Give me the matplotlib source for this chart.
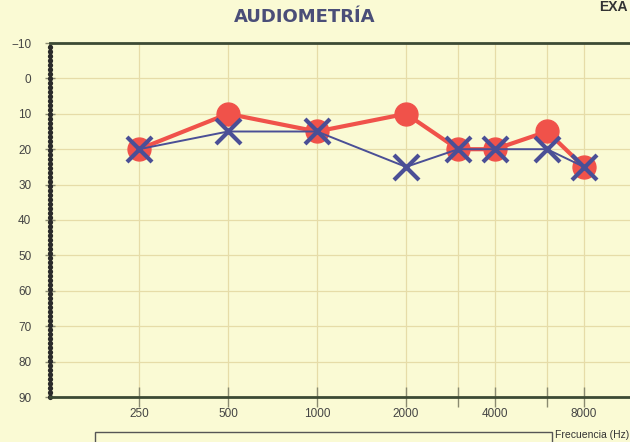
import numpy as np
import matplotlib.pyplot as plt
from matplotlib.patches import Rectangle

# audiogram values (dB HL)
freqs = [250, 500, 1000, 2000, 3000, 4000, 6000, 8000]
right_ear = [20, 10, 15, 10, 20, 20, 15, 25]   # red circles
left_ear = [20, 15, 15, 25, 20, 20, 20, 25]    # blue crosses
freq_labels = ['250', '500', '1000', '2000', '', '4000', '', '8000']
db_ticks = list(range(-10, 100, 10))

BG = '#fafad4'
GRID = '#e6dca8'
RED = '#f0524a'
BLUE = '#4a4f96'
DARK = '#3c4a34'

plt.rcParams['font.family'] = ['Liberation Sans', 'DejaVu Sans']

fig = plt.figure(figsize=(6.3, 4.42), dpi=100)
fig.patch.set_facecolor(BG)
ax = fig.add_axes([50 / 630, 1 - 397 / 442, 623 / 630, 354 / 442])
ax.set_facecolor(BG)

ax.set_xscale('log')
ax.set_xlim(125, 16000)
ax.set_ylim(90, -10)

ax.set_xticks(freqs)
ax.set_xticklabels(freq_labels)
ax.minorticks_off()
ax.set_yticks(db_ticks)
ax.grid(True, color=GRID, lw=0.9)
ax.set_axisbelow(True)

ax.plot(freqs, right_ear, color=RED, lw=3, marker='o', ms=16.5,
        mfc=RED, mec=RED, zorder=3)
ax.plot(freqs, left_ear, color=BLUE, lw=1.4, marker='x', ms=18,
        mew=3, zorder=4)

ax.spines['right'].set_visible(False)
ax.spines['top'].set_color(DARK)
ax.spines['top'].set_linewidth(2)
ax.spines['bottom'].set_color(DARK)
ax.spines['bottom'].set_linewidth(2)
# dotted left axis, like the scanned chart
ax.spines['left'].set_color('#2a2a2a')
ax.spines['left'].set_linewidth(3.8)
ax.spines['left'].set_linestyle((0, (0.05, 0.8)))
ax.spines['left'].set_capstyle('round')

ax.tick_params(axis='x', direction='inout', length=14, width=1,
               color='#8a8a70', labelsize=8.5, labelcolor='#444444', pad=1)
ax.tick_params(axis='y', direction='inout', length=7, width=1,
               color='#8a8a70', labelsize=8.5, labelcolor='#444444', pad=10)

fig.text(305 / 630, 1 - 17 / 442, 'AUDIOMETRÍA', ha='center', va='center',
         fontsize=13, fontweight='bold', color='#4a4e78',
         family='DejaVu Sans')
fig.text(628 / 630, 1 - 7 / 442, 'EXA', ha='right', va='center',
         fontsize=10, fontweight='bold', color='#333333')

# legend box, cut off by the bottom edge of the scan
fig.patches.append(Rectangle((95 / 630, -0.05), 457 / 630, 0.05 + 10 / 442,
                             transform=fig.transFigure, fill=False,
                             ec='#555555', lw=1))
fig.text(555 / 630, 1 - 435 / 442, 'Frecuencia (Hz)', ha='left',
         va='center', fontsize=7.5, color='#333333')

fig.savefig('out.png', dpi=100, facecolor=BG)
